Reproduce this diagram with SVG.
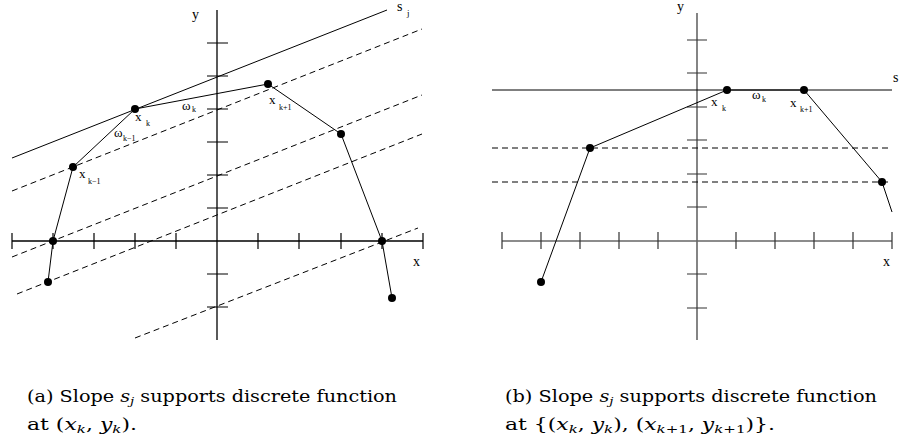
<svg xmlns="http://www.w3.org/2000/svg" width="901" height="442" viewBox="0 0 901 442">
<style>
.ax{stroke:#000;stroke-width:1.3;fill:none}
.axg{stroke:#666;stroke-width:1.6;fill:none}
.tk{stroke:#000;stroke-width:1.2;fill:none}
.tkg{stroke:#333;stroke-width:1.2;fill:none}
.ln{stroke:#000;stroke-width:1;fill:none}
.ds{stroke:#000;stroke-width:1;fill:none;stroke-dasharray:6 4}
.pt{fill:#000}
.lb{font-family:'Liberation Serif',serif;fill:#000}
.cap{font-family:'DejaVu Serif',serif;font-size:16px;fill:#000}
</style>
<rect width="901" height="442" fill="#fff"/>

<g id="panel-a">
  <g id="a-axes">
    <line class="ax" x1="12" y1="241" x2="423" y2="241"/>
    <line class="ax" x1="217" y1="10" x2="217" y2="340"/>
    <path class="tk" d="M12 233V249M53 233V249M94 233V249M135 233V249M176 233V249M258 233V249M299 233V249M341 233V249M382 233V249M423 233V249"/>
    <path class="tk" d="M207 43H228M207 76H228M207 109H228M207 142H228M207 175H228M207 208H228M207 274H228M207 307H228"/>
    <text class="lb" x="192" y="19" font-size="14">y</text>
    <text class="lb" x="413" y="266" font-size="14">x</text>
  </g>
  <g id="a-support">
    <line class="ln" x1="12" y1="158" x2="387" y2="10"/>
    <text class="lb" x="397" y="11" font-size="14">s</text>
    <text class="lb" x="407" y="16" font-size="9">j</text>
  </g>
  <g id="a-dashed">
    <line class="ds" x1="12" y1="191" x2="422" y2="29"/>
    <line class="ds" x1="12" y1="257" x2="422" y2="95"/>
    <line class="ds" x1="17" y1="294" x2="422" y2="134"/>
    <line class="ds" x1="135" y1="338" x2="418" y2="228"/>
  </g>
  <g id="a-function">
    <polyline class="ln" points="48,282 53,241 73,167 135,109 268,84 341,134 382,241 392,298"/>
    <circle class="pt" cx="48" cy="282" r="4"/>
    <circle class="pt" cx="53" cy="241" r="4"/>
    <circle class="pt" cx="73" cy="167" r="4"/>
    <circle class="pt" cx="135" cy="109" r="4"/>
    <circle class="pt" cx="268" cy="84" r="4"/>
    <circle class="pt" cx="341" cy="134" r="4"/>
    <circle class="pt" cx="382" cy="241" r="4"/>
    <circle class="pt" cx="392" cy="298" r="4"/>
  </g>
  <g id="a-labels">
    <text class="lb" x="135" y="121" font-size="13">x</text>
    <text class="lb" x="146" y="126" font-size="8">k</text>
    <text class="lb" x="182" y="110" font-size="13">ω</text>
    <text class="lb" x="192" y="112" font-size="8">k</text>
    <text class="lb" x="114" y="137" font-size="13">ω</text>
    <text class="lb" x="123" y="141" font-size="8">k−1</text>
    <text class="lb" x="79" y="178" font-size="13">x</text>
    <text class="lb" x="88" y="184" font-size="8">k−1</text>
    <text class="lb" x="269" y="104" font-size="13">x</text>
    <text class="lb" x="279" y="110" font-size="8">k+1</text>
  </g>
</g>

<g id="panel-b">
  <g id="b-axes">
    <line class="axg" x1="502" y1="241" x2="892" y2="241"/>
    <line class="axg" x1="697" y1="13" x2="697" y2="340"/>
    <path class="tkg" d="M502 232V249M541 232V249M580 232V249M619 232V249M658 232V249M736 232V249M775 232V249M814 232V249M853 232V249M892 232V249"/>
    <path class="tkg" d="M687 40H707M687 73H707M687 107H707M687 140H707M687 174H707M687 207H707M687 274H707M687 308H707"/>
    <text class="lb" x="677" y="11" font-size="14">y</text>
    <text class="lb" x="883" y="266" font-size="14">x</text>
  </g>
  <g id="b-support">
    <line class="ln" x1="492" y1="90" x2="892" y2="90"/>
    <text class="lb" x="893" y="82" font-size="14">s</text>
  </g>
  <g id="b-dashed">
    <line class="ds" x1="492" y1="148" x2="892" y2="148"/>
    <line class="ds" x1="492" y1="182" x2="892" y2="182"/>
  </g>
  <g id="b-function">
    <polyline class="ln" points="541,282 590,148 727,90 804,90 882,182 892,212"/>
    <circle class="pt" cx="541" cy="282" r="4"/>
    <circle class="pt" cx="590" cy="148" r="4"/>
    <circle class="pt" cx="727" cy="90" r="4"/>
    <circle class="pt" cx="804" cy="90" r="4"/>
    <circle class="pt" cx="882" cy="182" r="4"/>
  </g>
  <g id="b-labels">
    <text class="lb" x="711" y="106" font-size="13">x</text>
    <text class="lb" x="722" y="111" font-size="8">k</text>
    <text class="lb" x="752" y="99" font-size="13">ω</text>
    <text class="lb" x="762" y="102" font-size="8">k</text>
    <text class="lb" x="790" y="107" font-size="13">x</text>
    <text class="lb" x="800" y="112" font-size="8">k+1</text>
  </g>
</g>

<g id="captions">
  <text class="cap" x="27" y="402" textLength="370" lengthAdjust="spacingAndGlyphs">(a) Slope <tspan font-style="italic">s</tspan><tspan font-style="italic" font-size="11" dy="3">j</tspan><tspan dy="-3"> supports discrete function</tspan></text>
  <text class="cap" x="27" y="430" textLength="110" lengthAdjust="spacingAndGlyphs">at (<tspan font-style="italic">x</tspan><tspan font-style="italic" font-size="11" dy="3">k</tspan><tspan dy="-3">, </tspan><tspan font-style="italic">y</tspan><tspan font-style="italic" font-size="11" dy="3">k</tspan><tspan dy="-3">).</tspan></text>
  <text class="cap" x="505" y="402" textLength="372" lengthAdjust="spacingAndGlyphs">(b) Slope <tspan font-style="italic">s</tspan><tspan font-style="italic" font-size="11" dy="3">j</tspan><tspan dy="-3"> supports discrete function</tspan></text>
  <text class="cap" x="505" y="430" textLength="270" lengthAdjust="spacingAndGlyphs">at {(<tspan font-style="italic">x</tspan><tspan font-style="italic" font-size="11" dy="3">k</tspan><tspan dy="-3">, </tspan><tspan font-style="italic">y</tspan><tspan font-style="italic" font-size="11" dy="3">k</tspan><tspan dy="-3">), (</tspan><tspan font-style="italic">x</tspan><tspan font-style="italic" font-size="11" dy="3">k</tspan><tspan font-size="11">+1</tspan><tspan dy="-3">, </tspan><tspan font-style="italic">y</tspan><tspan font-style="italic" font-size="11" dy="3">k</tspan><tspan font-size="11">+1</tspan><tspan dy="-3">)}.</tspan></text>
</g>
</svg>
